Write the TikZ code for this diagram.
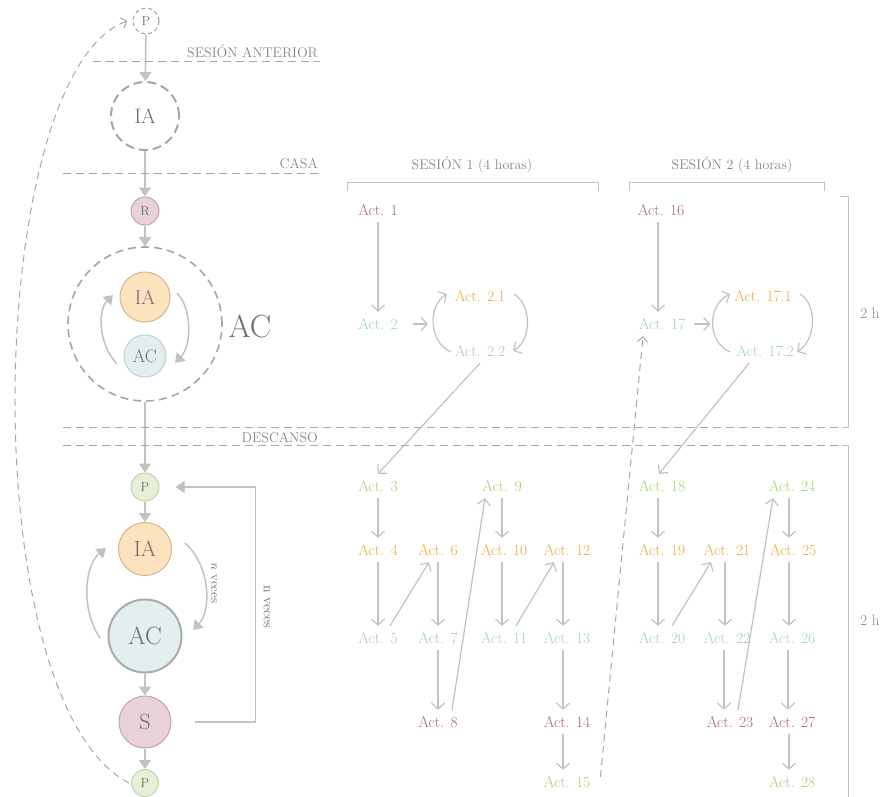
\documentclass[tikz,border=0pt]{standalone}
\usepackage{fontspec}
\usetikzlibrary{arrows.meta,calc}
\definecolor{ln}{HTML}{C2C2C2}
\definecolor{dsh}{HTML}{A6A6A6}
\definecolor{txt}{HTML}{858585}
\definecolor{ctxt}{HTML}{6E6E6E}
\definecolor{cpink}{HTML}{B0607E}
\definecolor{corange}{HTML}{F2A63C}
\definecolor{cteal}{HTML}{9ECFC7}
\definecolor{cgreen}{HTML}{A6CD74}
\definecolor{fo}{HTML}{FDE2BE}\definecolor{so}{HTML}{D4B48E}
\definecolor{fb}{HTML}{E3EEF0}\definecolor{sb}{HTML}{C5CFD1}
\definecolor{fp}{HTML}{E8D1D8}\definecolor{sp}{HTML}{C2A3AE}
\definecolor{fg}{HTML}{E6F0D8}\definecolor{sg}{HTML}{C3D3AD}
\newcommand{\myfs}[1]{\fontsize{#1}{#1}\selectfont}
\newcommand{\varr}[3]{\draw[aa] ([xshift=#3]#1.south) -- ([xshift=#3]#1.south |- #2.north);}
\tikzset{
  circ/.style={circle, inner sep=0pt, text=ctxt},
  flow/.style={draw=ln, line width=1.5pt, -{Triangle[length=9pt,width=12pt]}},
  aa/.style={draw=ln, line width=1.2pt, -{Straight Barb[length=6pt,width=13pt]}},
  act/.style={font=\myfs{15.5}, inner xsep=1pt, inner ysep=7pt, text height=10pt, text depth=0pt},
  hdr/.style={font=\myfs{14}, text=txt, inner sep=0pt},
  dline/.style={draw=dsh, line width=1pt, dash pattern=on 8pt off 5pt},
  brk/.style={draw=ln, line width=1pt},
}
\begin{document}
\begin{tikzpicture}[x=1pt,y=-1pt]
\useasboundingbox (0,0) rectangle (882,796);
% ---------- left column ----------
\node[circ, draw=dsh, line width=1.1pt, dash pattern=on 4pt off 3pt, minimum size=26pt, font=\myfs{13}] (P0) at (146,21) {P};
\node[circ, draw=dsh, line width=2pt, dash pattern=on 9pt off 5pt, minimum size=68pt, font=\myfs{21}] (IA0) at (145,116) {IA};
\node[circ, fill=fp, draw=sp, line width=1pt, minimum size=28pt, font=\myfs{13}] (R) at (145,211) {R};
\node[circ, draw=dsh, line width=1.6pt, dash pattern=on 8pt off 5pt, minimum size=154pt] (BC) at (145,324) {};
\node[circ, fill=fo, draw=so, line width=1pt, minimum size=50pt, font=\myfs{20}] (IA1) at (145,297) {IA};
\node[circ, fill=fb, draw=sb, line width=1pt, minimum size=42pt, font=\myfs{18}] (AC1) at (145,356) {AC};
\node[font=\myfs{32}, text=ctxt, inner sep=0pt] (ACL) at (250,326) {AC};
\node[circ, fill=fg, draw=sg, line width=1pt, minimum size=28pt, font=\myfs{13}] (P1) at (145,487) {P};
\node[circ, fill=fo, draw=so, line width=1pt, minimum size=53pt, font=\myfs{22}] (IA2) at (145,549) {IA};
\node[circ, fill=fb, draw=black!33, line width=2pt, minimum size=73pt, font=\myfs{25}] (AC2) at (145,636) {AC};
\node[circ, fill=fp, draw=sp, line width=1pt, minimum size=52pt, font=\myfs{22}] (S) at (145,722) {S};
\node[circ, fill=fg, draw=sg, line width=1pt, minimum size=27pt, font=\myfs{13}] (P2) at (145,783) {P};

\draw[flow] (P0) -- (IA0);
\draw[flow] (IA0) -- (R);
\draw[flow] (R) -- (BC);
\draw[flow] (BC) -- (P1);
\draw[flow] (P1) -- (IA2);
\draw[flow] (AC2) -- (S);
\draw[flow] (S) -- (P2);

% cycle top
\draw[flow] ($(AC1)+(-28,8)$) .. controls ($(AC1)+(-47,-12)$) and ($(IA1)+(-47,13)$) .. ($(IA1)+(-32,-2)$);
\draw[flow] ($(IA1)+(32,-4)$) .. controls ($(IA1)+(47,11)$) and ($(AC1)+(47,-11)$) .. ($(AC1)+(30,7)$);
% cycle bottom
\draw[flow] ($(AC2)+(-45,2)$) .. controls ($(AC2)+(-65,-28)$) and ($(IA2)+(-60,16)$) .. ($(IA2)+(-39,-1)$);
\draw[flow] ($(IA2)+(40,-6)$) .. controls ($(IA2)+(65,16)$) and ($(AC2)+(67,-26)$) .. ($(AC2)+(48,-6)$);
\node[font=\myfs{13}, text=ctxt, rotate=-90, inner sep=0pt] (nv1) at (214,583) {\textit{n} veces};

% n veces loop
\draw[flow, shorten <=23pt, shorten >=16pt] (S.east) -- ($(S.east)+(84,0)$) |- (P1.east);
\node[font=\myfs{14}, text=ctxt, rotate=-90, inner sep=0pt] (nv2) at (267,607) {n veces};

% dashed feedback
\draw[draw=dsh, line width=1pt, dash pattern=on 7pt off 5pt, -{Straight Barb[length=5pt,width=11pt]}]
  ([xshift=-2pt]P2.west) .. controls (-30,700) and (-15,70) .. ([xshift=-5pt]P0.west);

% ---------- separators ----------
\node[hdr, anchor=base east] (tsa) at (318,57) {SESIÓN ANTERIOR};
\draw[dline] (93,61) -- (320,61);
\node[hdr, anchor=base east] (tca) at (318,168) {CASA};
\draw[dline] (63,173) -- (320,173);
\draw[dline] (63,427) -- (842,427);
\draw[dline] (63,445) -- (842,445);
\node[hdr, anchor=base east] (tde) at (318,442) {DESCANSO};

% brackets
\node[hdr, anchor=base] (s1) at (472,169) {SESIÓN 1 (4 horas)};
\node[hdr, anchor=base] (s2) at (732,169) {SESIÓN 2 (4 horas)};
\draw[brk] (347,191) -- (347,182) -- (598,182) -- (598,191);
\draw[brk] (629,191) -- (629,182) -- (824,182) -- (824,191);
\draw[brk] (840,196) -- (848,196) -- (848,427) -- (842,427);
\draw[brk] (842,445) -- (848,445) -- (848,800);
\node[hdr, font=\myfs{15}] (h1) at (870,313) {2 h};
\node[hdr, font=\myfs{15}] (h2) at (870,620) {2 h};

% ---------- session 1 ----------
\node[act, text=cpink] (a1) at (378,210) {Act. 1};
\node[act, text=cteal] (a2) at (378,324) {Act. 2};
\node[act, text=corange] (b21) at (480,296) {Act. 2.1};
\node[act, text=cteal] (b22) at (480,351) {Act. 2.2};
\varr{a1}{a2}{0}
\draw[aa] ([xshift=14pt]a2.east) -- ++(15,0);
\draw[aa] ($(b22)+(-29,1)$) .. controls ($(b22)+(-52,-9)$) and ($(b21)+(-52,9)$) .. ($(b21)+(-33,-2)$);
\draw[aa] ($(b21)+(34,-2)$) .. controls ($(b21)+(52,9)$) and ($(b22)+(52,-11)$) .. ($(b22)+(33,0)$);

\node[act, text=cgreen] (a3) at (378,486) {Act. 3};
\node[act, text=corange] (a4) at (378,550) {Act. 4};
\node[act, text=cteal] (a5) at (378,638) {Act. 5};
\node[act, text=corange] (a6) at (438,550) {Act. 6};
\node[act, text=cteal] (a7) at (438,638) {Act. 7};
\node[act, text=cpink] (a8) at (438,722) {Act. 8};
\node[act, text=cgreen] (a9) at (502,486) {Act. 9};
\node[act, text=corange] (a10) at (504,550) {Act. 10};
\node[act, text=cteal] (a11) at (504,638) {Act. 11};
\node[act, text=corange] (a12) at (567,550) {Act. 12};
\node[act, text=cteal] (a13) at (567,638) {Act. 13};
\node[act, text=cpink] (a14) at (567,722) {Act. 14};
\node[act, text=cgreen] (a15) at (567,782) {Act. 15};
\draw[aa] (b22.south) -- (a3.north);
\varr{a3}{a4}{0}
\varr{a4}{a5}{0}
\draw[aa] ([xshift=12pt]a5.north) -- ([xshift=-9pt]a6.south);
\varr{a6}{a7}{0}
\varr{a7}{a8}{0}
\draw[aa] ([xshift=14pt]a8.north) -- ([xshift=-17pt]a9.south);
\varr{a9}{a10}{0}
\varr{a10}{a11}{-2pt}
\draw[aa] ([xshift=12pt]a11.north) -- ([xshift=-13pt]a12.south);
\varr{a12}{a13}{-4pt}
\varr{a13}{a14}{-4pt}
\varr{a14}{a15}{-4pt}

% ---------- session 2 ----------
\node[act, text=cpink] (a16) at (661,210) {Act. 16};
\node[act, text=cteal] (a17) at (662,324) {Act. 17};
\node[act, text=corange] (c171) at (763,296) {Act. 17.1};
\node[act, text=cteal] (c172) at (765,351) {Act. 17.2};
\varr{a16}{a17}{-3pt}
\draw[aa] ([xshift=8pt]a17.east) -- ++(16,0);
\draw[aa] ($(c172)+(-35,1)$) .. controls ($(c172)+(-58,-9)$) and ($(c171)+(-56,9)$) .. ($(c171)+(-33,-2)$);
\draw[aa] ($(c171)+(37,-2)$) .. controls ($(c171)+(55,9)$) and ($(c172)+(51,-11)$) .. ($(c172)+(32,1)$);

\node[act, text=cgreen] (a18) at (662,486) {Act. 18};
\node[act, text=corange] (a19) at (662,550) {Act. 19};
\node[act, text=cteal] (a20) at (662,638) {Act. 20};
\node[act, text=corange] (a21) at (727,550) {Act. 21};
\node[act, text=cteal] (a22) at (727,638) {Act. 22};
\node[act, text=cpink] (a23) at (730,722) {Act. 23};
\node[act, text=cgreen] (a24) at (792,486) {Act. 24};
\node[act, text=corange] (a25) at (793,550) {Act. 25};
\node[act, text=cteal] (a26) at (792,638) {Act. 26};
\node[act, text=cpink] (a27) at (792,722) {Act. 27};
\node[act, text=cgreen] (a28) at (792,782) {Act. 28};
\draw[aa] ([xshift=-16pt]c172.south) -- ([xshift=-3pt]a18.north);
\varr{a18}{a19}{-4pt}
\varr{a19}{a20}{-4pt}
\draw[aa] ([xshift=10pt]a20.north) -- ([xshift=-16pt]a21.south);
\varr{a21}{a22}{-2pt}
\varr{a22}{a23}{-3pt}
\draw[aa] ([xshift=8pt]a23.north) -- ([xshift=-19pt]a24.south);
\varr{a24}{a25}{-3pt}
\varr{a25}{a26}{-4pt}
\varr{a26}{a27}{-4pt}
\varr{a27}{a28}{-3pt}

% dashed from Act 15 to Act 17
\draw[draw=dsh, line width=1pt, dash pattern=on 7pt off 5pt, -{Straight Barb[length=5pt,width=10pt]}]
  ($(a15.east)+(9,-5)$) -- ([xshift=-19pt]a17.south);
\end{tikzpicture}
\end{document}
